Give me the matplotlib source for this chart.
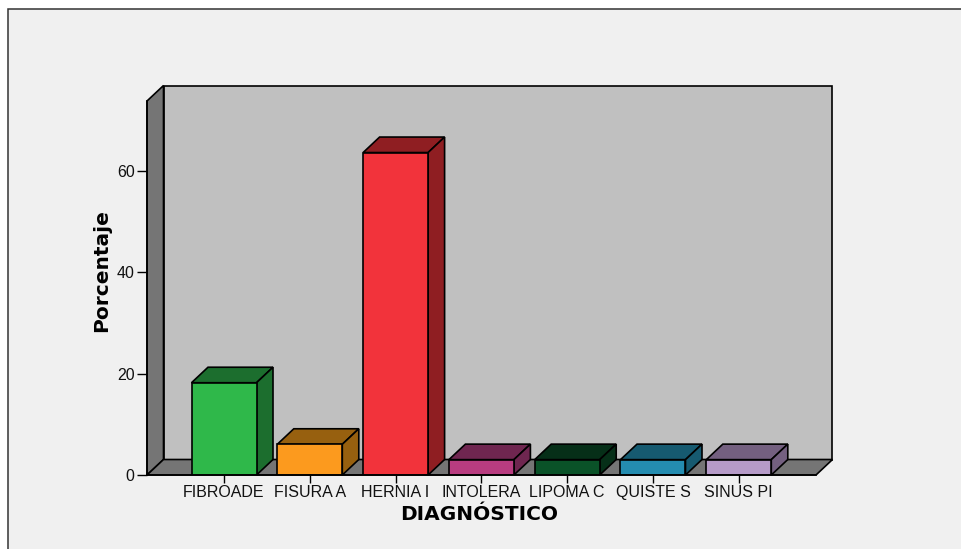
import matplotlib
matplotlib.use('Agg')
from matplotlib import pyplot as plt
from matplotlib.patches import Rectangle

categories = ['FIBROADE', 'FISURA A', 'HERNIA I', 'INTOLERA', 'LIPOMA C', 'QUISTE S', 'SINUS PI']
values = [18.2, 6.06, 63.6, 3.03, 3.03, 3.03, 3.03]
front_colors = ['#2fb84a', '#fc9a1e', '#f2333b', '#b83c80', '#0a5228', '#248cb0', '#b69bc8']
dark_colors = ['#1c6e2e', '#97600f', '#8f1e22', '#6f2650', '#062f18', '#165a70', '#746080']
y_ticks = [0, 20, 40, 60]

W, H = 961, 549
fig = plt.figure(figsize=(W / 100, H / 100), dpi=100, facecolor='white')
plt.rcParams['font.family'] = ['Liberation Sans', 'DejaVu Sans']

# panel behind the chart
fig.add_artist(Rectangle((8 / W, -0.01), 1, 1 - 9 / H + 0.01, transform=fig.transFigure,
                         facecolor='#f0f0f0', edgecolor='#333333', linewidth=1.1, zorder=-5))

# axes = front plane of the 3d box, in pixels
left, right, bottom, top = 147, 816, 475, 101
ax = fig.add_axes([left / W, 1 - bottom / H, (right - left) / W, (bottom - top) / H])
ax.set_zorder(2)
ax.patch.set_visible(False)
px_x = 85.8   # pixels per category
px_y = 5.07   # pixels per percent
ax.set_xlim((left - 224) / px_x, (right - 224) / px_x)
ax.set_ylim(0, (bottom - top) / px_y)
dx = 16.5 / px_x
dy = 15.5 / px_y
x0, x1 = ax.get_xlim()
y0, y1 = ax.get_ylim()
edge = dict(edgecolor='black', linewidth=1.2, clip_on=False, joinstyle='miter')

# walls and floor
ax.fill([x0 + dx, x1 + dx, x1 + dx, x0 + dx], [y0 + dy, y0 + dy, y1 + dy, y1 + dy], facecolor='#c0c0c0', **edge)
ax.fill([x0, x0 + dx, x0 + dx, x0], [y0, y0 + dy, y1 + dy, y1], facecolor='#757575', **edge)
ax.fill([x0, x1, x1 + dx, x0 + dx], [y0, y0, y0 + dy, y0 + dy], facecolor='#757575', **edge)

# bars
width = 65 / px_x
for i, v in enumerate(values):
    a = i - width / 2
    b = i + width / 2
    ax.fill([a, b, b + dx, a + dx], [v, v, v + dy, v + dy], facecolor=dark_colors[i], **edge)
    ax.fill([b, b + dx, b + dx, b], [0, dy, v + dy, v], facecolor=dark_colors[i], **edge)
ax.bar(range(len(values)), values, width=width, color=front_colors, edgecolor='black', linewidth=1.2, zorder=3)

for name in ['top', 'right']:
    ax.spines[name].set_visible(False)
for name in ['left', 'bottom']:
    ax.spines[name].set_linewidth(1.2)
    ax.spines[name].set_zorder(4)

ax.set_xticks(range(len(categories)))
ax.set_xticklabels(categories, fontsize=11.5, color='#111111')
ax.set_yticks(y_ticks)
ax.tick_params(axis='x', length=5.5, width=1, pad=1.5)
ax.tick_params(axis='y', length=7, width=1, pad=2, labelsize=11.5, labelcolor='#111111')

fig.text(479 / W, 1 - 514 / H, 'DIAGNÓSTICO', ha='center', va='center', fontsize=14.5, fontweight='bold', family='DejaVu Sans')
fig.text(102 / W, 1 - 271 / H, 'Porcentaje', ha='center', va='center', rotation=90, fontsize=14.5, fontweight='bold', family='DejaVu Sans')

fig.savefig('out.png', dpi=100, facecolor=fig.get_facecolor())
